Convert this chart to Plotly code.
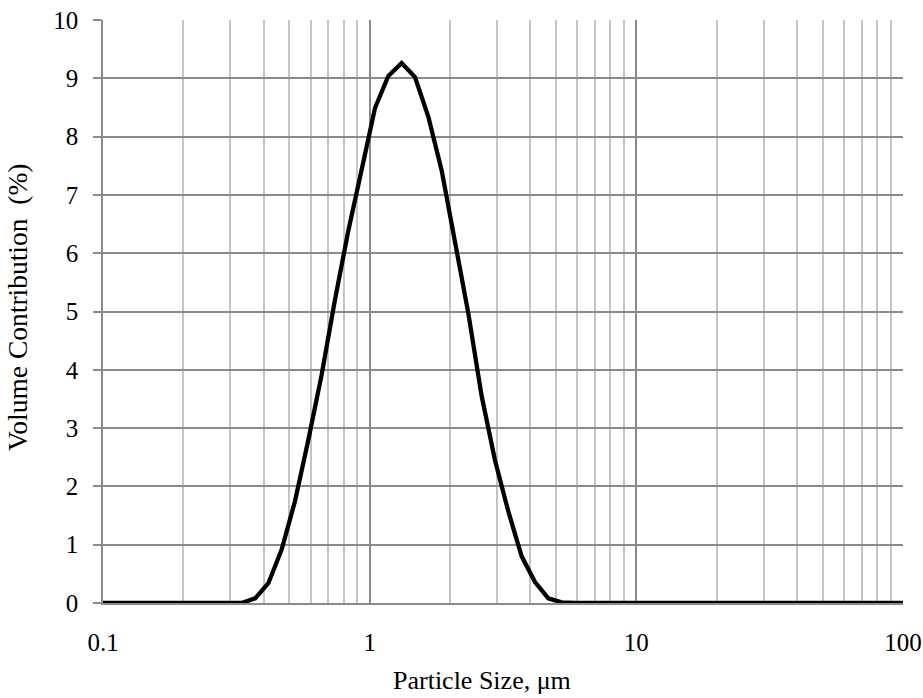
import plotly.graph_objects as go

particle_size_um = [0.1, 0.331, 0.372, 0.417, 0.468, 0.525, 0.589, 0.661, 0.741, 0.832, 0.933,
                    1.047, 1.175, 1.318, 1.479, 1.660, 1.862, 2.089, 2.344, 2.630, 2.951,
                    3.311, 3.715, 4.169, 4.677, 5.248, 5.888, 100.0]
volume_pct = [0.0, 0.0, 0.08, 0.34, 0.92, 1.75, 2.80, 3.92, 5.20, 6.39, 7.43,
              8.49, 9.04, 9.26, 9.02, 8.34, 7.42, 6.24, 4.97, 3.55, 2.45,
              1.57, 0.80, 0.36, 0.08, 0.01, 0.0, 0.0]

x_ticks = [0.1, 1, 10, 100]
x_tick_text = ["0.1", "1", "10", "100"]
x_minor_ticks = [0.2, 0.3, 0.4, 0.5, 0.6, 0.7, 0.8, 0.9,
                 2, 3, 4, 5, 6, 7, 8, 9,
                 20, 30, 40, 50, 60, 70, 80, 90]
y_ticks = list(range(0, 11))

x_title = "Particle Size, μm"
y_title = "Volume Contribution\u00a0\u00a0(%)"

font_family = "Liberation Serif, Times New Roman, serif"

fig = go.Figure()
fig.add_trace(go.Scatter(x=particle_size_um, y=volume_pct, mode="lines",
                         line=dict(color="black", width=4.3), showlegend=False))

fig.update_layout(
    width=923, height=698,
    margin=dict(l=103, r=20, t=20, b=95),
    paper_bgcolor="white", plot_bgcolor="white",
    font=dict(family=font_family, size=25, color="black"),
)
fig.update_xaxes(
    type="log", range=[-1, 2], automargin=False,
    tickvals=x_ticks, ticktext=x_tick_text,
    ticks="", ticklabelstandoff=16,
    showgrid=True, gridcolor="#8a8a8a", gridwidth=1.5,
    minor=dict(showgrid=True, tickvals=x_minor_ticks, gridcolor="#c4c4c4", gridwidth=1.5, ticks=""),
    showline=True, linecolor="#8a8a8a", linewidth=1.5,
    zeroline=False,
)
fig.update_yaxes(
    range=[0, 10], tickvals=y_ticks, automargin=False,
    ticks="outside", ticklen=8, tickcolor="#8a8a8a", tickwidth=1.5,
    ticklabelstandoff=10,
    showgrid=True, gridcolor="#8a8a8a", gridwidth=1.5,
    showline=True, linecolor="#8a8a8a", linewidth=1.5,
    zeroline=False,
)
fig.add_annotation(text=x_title, xref="paper", yref="paper",
                   x=(482 - 103) / 800, y=-(681 - 603) / 583,
                   xanchor="center", yanchor="middle", showarrow=False,
                   borderpad=0, font=dict(size=26))
fig.add_annotation(text=y_title, xref="paper", yref="paper",
                   x=-(103 - 18) / 800, y=(603 - 308) / 583, textangle=-90,
                   xanchor="center", yanchor="middle", showarrow=False,
                   borderpad=0, font=dict(size=27.5))

fig.write_html("out.html")
